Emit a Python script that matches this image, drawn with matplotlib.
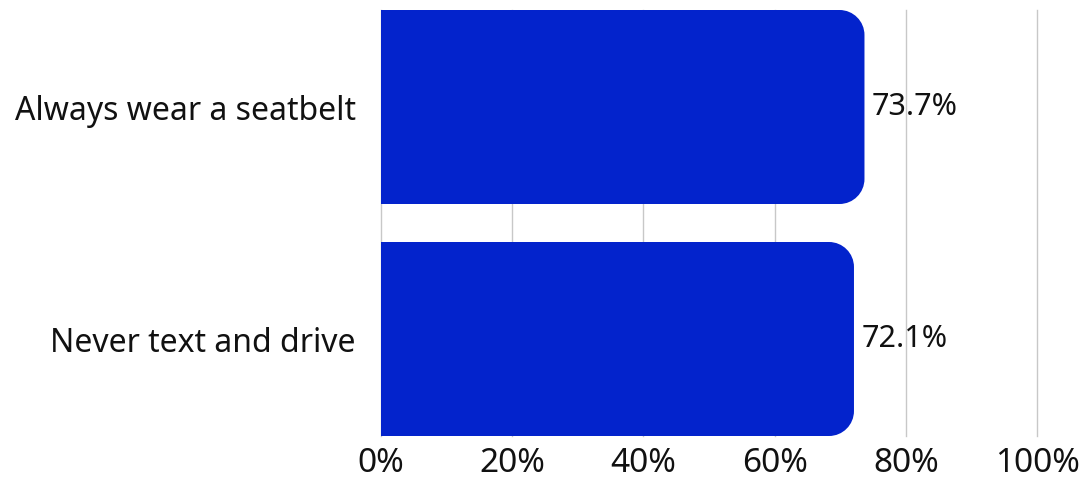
import numpy as np
import matplotlib
matplotlib.use('Agg')
import matplotlib.pyplot as plt
from matplotlib.path import Path
from matplotlib.patches import PathPatch

categories = ['Always wear a seatbelt', 'Never text and drive']
values = [73.7, 72.1]
labels = ['73.7%', '72.1%']
ticks = [0, 20, 40, 60, 80, 100]
tick_labels = ['0%', '20%', '40%', '60%', '80%', '100%']

BAR_COLOR = '#0323cc'
GRID_COLOR = '#c8c8c8'
plt.rcParams['font.family'] = ['Noto Sans', 'DejaVu Sans']


def round_bar(ax, y, w, h, rx, ry, color):
    # bar with square left edge and rounded right corners
    k = 0.5523
    y0, y1 = y - h / 2, y + h / 2
    verts = [(0, y0), (w - rx, y0),
             (w - rx + k * rx, y0), (w, y0 + ry - k * ry), (w, y0 + ry),
             (w, y1 - ry),
             (w, y1 - ry + k * ry), (w - rx + k * rx, y1), (w - rx, y1),
             (0, y1), (0, y0)]
    codes = [Path.MOVETO, Path.LINETO,
             Path.CURVE4, Path.CURVE4, Path.CURVE4,
             Path.LINETO,
             Path.CURVE4, Path.CURVE4, Path.CURVE4,
             Path.LINETO, Path.CLOSEPOLY]
    ax.add_patch(PathPatch(Path(verts, codes), facecolor=color, edgecolor='none', zorder=2))


fig = plt.figure(figsize=(10.86, 4.83), dpi=100)
ax = fig.add_axes([381 / 1086, 47 / 483, 656 / 1086, 426 / 483])

bar_h = 194 / 232
pad = bar_h / 2
ax.set_xlim(0, 100)
ax.set_ylim(len(categories) - 1 + pad, -pad)

rx = 25 / 6.56
ry = 25 / 232
for i, v in enumerate(values):
    round_bar(ax, i, v, bar_h, rx, ry, BAR_COLOR)
    ax.text(v + 1.1, i, labels[i], va='center', ha='left', fontsize=22, color='#111111', zorder=1)

for t in ticks:
    ax.axvline(t, color=GRID_COLOR, lw=1, zorder=1.5, clip_on=False)

ax.set_xticks(ticks)
ax.set_xticklabels(tick_labels, fontsize=24, color='#111111')
ax.set_yticks(range(len(categories)))
ax.set_yticklabels(categories, fontsize=23, color='#111111')
ax.tick_params(length=0)
ax.tick_params(axis='x', pad=8)
ax.tick_params(axis='y', pad=18)
for s in ax.spines.values():
    s.set_visible(False)

fig.savefig('out.png', dpi=100, facecolor='white')
